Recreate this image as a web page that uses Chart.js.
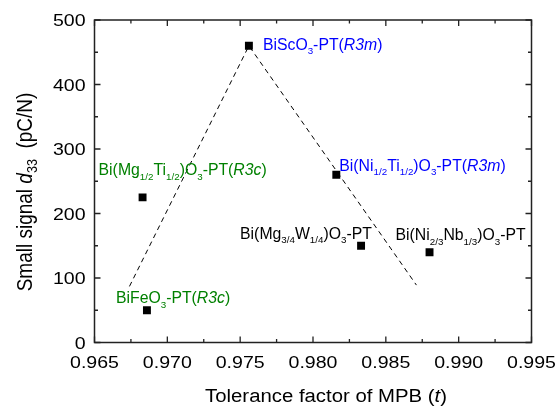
<!DOCTYPE html>
<html>
<head>
<meta charset="utf-8">
<script src="https://cdn.jsdelivr.net/npm/chart.js@4/dist/chart.umd.min.js"></script>
<style>
html,body{margin:0;padding:0;background:#fff;}
#wrap{width:558px;height:407px;position:relative;}
</style>
</head>
<body>
<div id="wrap"><canvas id="c" width="558" height="407"></canvas></div>
<script>
// ---- data ----
const tolerance = [0.9756, 0.9683, 0.9686, 0.9816, 0.9833, 0.9880];
const d33 = [460, 225, 50, 260, 150, 140];
const compounds = [
  "BiScO_{3}-PT(*R3m*)",
  "Bi(Mg_{1/2}Ti_{1/2})O_{3}-PT(*R3c*)",
  "BiFeO_{3}-PT(*R3c*)",
  "Bi(Ni_{1/2}Ti_{1/2})O_{3}-PT(*R3m*)",
  "Bi(Mg_{3/4}W_{1/4})O_{3}-PT",
  "Bi(Ni_{2/3}Nb_{1/3})O_{3}-PT"
];
const trendX = [0.9674, 0.9756, 0.9871];
const trendY = [87, 460, 89];
const xTicks = [0.965, 0.970, 0.975, 0.980, 0.985, 0.990, 0.995];
const yTicks = [0, 100, 200, 300, 400, 500];
const xTickLabels = ["0.965","0.970","0.975","0.980","0.985","0.990","0.995"];
const yTickLabels = ["0","100","200","300","400","500"];
const xTitle = "Tolerance factor of MPB (*t*)";
const yTitle = "Small signal *d*_{33}  (pC/N)";

// ---- styles ----
const labelStyle = [
  {color:"#0000FF", dx:14, dy:4},
  {color:"#008000", dx:-44, dy:-22},
  {color:"#008000", dx:-31, dy:-7},
  {color:"#0000FF", dx:3, dy:-4},
  {color:"#000000", dx:-121, dy:-7},
  {color:"#000000", dx:-34, dy:-12}
];
const FONT = "'Liberation Sans', Arial, sans-serif";
const STRETCH = 1.15;

function parseRich(s){
  const segs=[]; let i=0; let italic=false; let buf="";
  const push=()=>{ if(buf){segs.push({t:buf,it:italic,sub:false});buf="";} };
  while(i<s.length){
    const ch=s[i];
    if(ch==='*'){push(); italic=!italic; i++; continue;}
    if(ch==='_' && s[i+1]==='{'){
      push();
      const j=s.indexOf('}',i);
      segs.push({t:s.slice(i+2,j),it:italic,sub:true});
      i=j+1; continue;
    }
    buf+=ch; i++;
  }
  push();
  return segs;
}
function richWidth(ctx,segs,size,subSize){
  let w=0;
  for(const g of segs){
    ctx.font=(g.it?'italic ':'')+(g.sub?subSize:size)+'px '+FONT;
    w+=ctx.measureText(g.t).width;
  }
  return w;
}
function drawRich(ctx,segs,x,y,size,subSize,subDrop,color){
  ctx.fillStyle=color; ctx.textBaseline='alphabetic'; ctx.textAlign='left';
  for(const g of segs){
    ctx.font=(g.it?'italic ':'')+(g.sub?subSize:size)+'px '+FONT;
    ctx.fillText(g.t,x,y+(g.sub?subDrop:0));
    x+=ctx.measureText(g.t).width;
  }
}

const framePlugin={
  id:'frame',
  afterDraw(chart){
    const ctx=chart.ctx, a=chart.chartArea, xs=chart.scales.x, ys=chart.scales.y;
    ctx.save();
    ctx.strokeStyle='#222'; ctx.lineWidth=1.5;
    ctx.strokeRect(a.left,a.top,a.right-a.left,a.bottom-a.top);
    ctx.lineWidth=1.3;
    const maj=6, mnr=3.5;
    ctx.beginPath();
    for(let k=0;k<xTicks.length;k++){
      const px=xs.getPixelForValue(xTicks[k]);
      ctx.moveTo(px,a.bottom); ctx.lineTo(px,a.bottom-maj);
      ctx.moveTo(px,a.top); ctx.lineTo(px,a.top+maj);
      if(k<xTicks.length-1){
        const pm=xs.getPixelForValue((xTicks[k]+xTicks[k+1])/2);
        ctx.moveTo(pm,a.bottom); ctx.lineTo(pm,a.bottom-mnr);
        ctx.moveTo(pm,a.top); ctx.lineTo(pm,a.top+mnr);
      }
    }
    for(let k=0;k<yTicks.length;k++){
      const py=ys.getPixelForValue(yTicks[k]);
      ctx.moveTo(a.left,py); ctx.lineTo(a.left+maj,py);
      ctx.moveTo(a.right,py); ctx.lineTo(a.right-maj,py);
      if(k<yTicks.length-1){
        const pm=ys.getPixelForValue((yTicks[k]+yTicks[k+1])/2);
        ctx.moveTo(a.left,pm); ctx.lineTo(a.left+mnr,pm);
        ctx.moveTo(a.right,pm); ctx.lineTo(a.right-mnr,pm);
      }
    }
    ctx.stroke();

    // tick labels (horizontally stretched like the reference)
    ctx.fillStyle='#000';
    ctx.font='17px '+FONT;
    for(let k=0;k<xTicks.length;k++){
      const px=xs.getPixelForValue(xTicks[k]);
      ctx.save();
      ctx.translate(px,367.5); ctx.scale(STRETCH,1);
      ctx.textAlign='center'; ctx.textBaseline='alphabetic';
      ctx.fillText(xTickLabels[k],0,0);
      ctx.restore();
    }
    for(let k=0;k<yTicks.length;k++){
      const py=ys.getPixelForValue(yTicks[k]);
      ctx.save();
      ctx.translate(a.left-9,py+6); ctx.scale(STRETCH,1);
      ctx.textAlign='right'; ctx.textBaseline='alphabetic';
      ctx.fillText(yTickLabels[k],0,0);
      ctx.restore();
    }

    // annotations
    for(let i=0;i<compounds.length;i++){
      const px=xs.getPixelForValue(tolerance[i]), py=ys.getPixelForValue(d33[i]);
      const st=labelStyle[i];
      drawRich(ctx,parseRich(compounds[i]),px+st.dx,py+st.dy,15.8,9.8,4.5,st.color);
    }
    // x title
    const xt=parseRich(xTitle);
    ctx.save();
    const wx=richWidth(ctx,xt,18,12);
    ctx.translate(326,402); ctx.scale(1.13,1);
    drawRich(ctx,xt,-wx/2,0,18,12,4,'#000');
    ctx.restore();
    // y title
    const yt=parseRich(yTitle);
    ctx.save();
    const wy=richWidth(ctx,yt,19,12.5);
    ctx.translate(32,192); ctx.scale(STRETCH,1);
    ctx.rotate(-Math.PI/2);
    drawRich(ctx,yt,-wy/2,0,19,12.5,4.5,'#000');
    ctx.restore();
    ctx.restore();
  }
};

new Chart(document.getElementById('c'),{
  type:'scatter',
  data:{
    datasets:[
      {
        data:trendX.map((x,i)=>({x:x,y:trendY[i]})),
        showLine:true, borderColor:'#000', borderWidth:1, borderDash:[5,4],
        pointRadius:0, fill:false, order:2
      },
      {
        data:tolerance.map((x,i)=>({x:x,y:d33[i]})),
        pointStyle:'rect', pointRadius:5.6, pointBackgroundColor:'#000',
        pointBorderColor:'#000', pointBorderWidth:0, showLine:false, order:1
      }
    ]
  },
  options:{
    responsive:false, animation:false, devicePixelRatio:1,
    layout:{padding:{top:20,right:26.5,left:0,bottom:0}},
    plugins:{legend:{display:false},tooltip:{enabled:false}},
    scales:{
      x:{
        type:'linear', min:0.965, max:0.995,
        afterBuildTicks(s){ s.ticks=xTicks.map(v=>({value:v})); },
        afterFit(s){ s.height=64.5; },
        grid:{display:false, drawTicks:false},
        border:{display:false},
        ticks:{display:false}
      },
      y:{
        type:'linear', min:0, max:500,
        afterBuildTicks(s){ s.ticks=yTicks.map(v=>({value:v})); },
        afterFit(s){ s.width=94.5; },
        grid:{display:false, drawTicks:false},
        border:{display:false},
        ticks:{display:false}
      }
    }
  },
  plugins:[framePlugin]
});
</script>
</body>
</html>
